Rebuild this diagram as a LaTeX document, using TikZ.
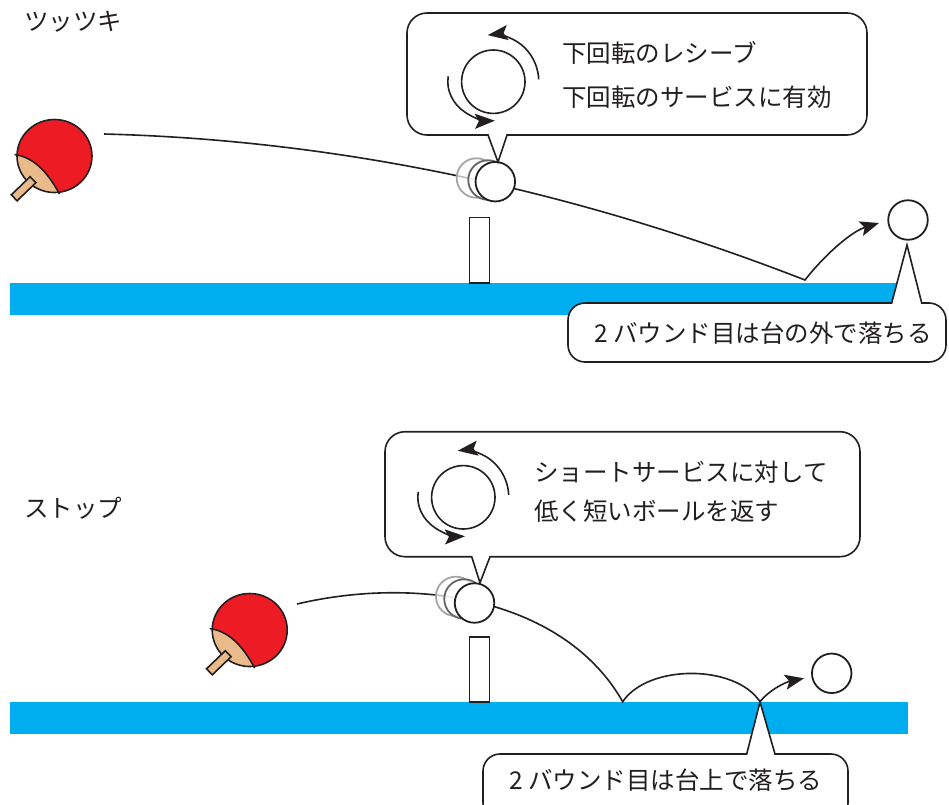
\documentclass[tikz,border=0pt]{standalone}
\usepackage{fontspec}
\newfontfamily\jpfont{Noto Sans CJK JP}
\usetikzlibrary{arrows.meta}

\definecolor{ink}{HTML}{231F20}
\definecolor{tablecol}{HTML}{00ADEE}
\definecolor{rubber}{HTML}{ED1C24}
\definecolor{wood}{HTML}{E9BA8A}

\tikzset{
  line/.style={draw=ink, line width=1.6pt},
  caption/.style={font=\jpfont\fontsize{24.5}{29}\selectfont, text=ink, anchor=west, inner sep=0pt},
  ball/.style={circle, draw=ink, line width=1.8pt, fill=white, minimum size=39.5pt, inner sep=0pt},
  ghostfar/.style={ball, draw=ink!40, fill opacity=0.7},
  ghostnear/.style={ball, draw=ink!70, fill opacity=0.7},
  balloon/.style={line, fill=white, line join=miter},
  netpost/.style={line, fill=white},
  tip/.style={-{Stealth[length=19pt,width=15pt,inset=4pt]}},
  spintip/.style={-{Stealth[length=20pt,width=15pt,inset=4pt]}},
  % racket seen from the side: red rubber, wooden lower part and handle
  paddle/.pic={
    \fill[rubber] (0,0) ellipse[x radius=37.5pt, y radius=36.5pt];
    \begin{scope}
      \clip (0,0) ellipse[x radius=37.5pt, y radius=36.5pt];
      \fill[wood] (-40,-1.5) .. controls (-22,1) and (-8,14) .. (5,38)
        -- (5,42) -- (-45,42) -- (-45,-1.5) -- cycle;
    \end{scope}
    \draw[line] (-40,-1.5) .. controls (-22,1) and (-8,14) .. (5,38);
    \draw[line] (0,0) ellipse[x radius=37.5pt, y radius=36.5pt];
    \draw[line, fill=wood, line join=miter]
      (-37.4,44.8) -- (-43.2,38.8) -- (-24.4,20.7) -- (-18.6,26.7) -- cycle;
  },
  % ball with two curved arrows showing the spin
  spin/.pic={
    \draw[line] (0,0) circle[radius=31.7pt];
    \draw[line, spintip] (45.4,-2.4)
      arc[start angle=3, end angle=97, x radius=45.5pt, y radius=47pt];
    \draw[line, spintip] (-45.06,-5.43)
      arc[start angle=172, end angle=272, x radius=45.5pt, y radius=39pt];
  },
}

\begin{document}
\begin{tikzpicture}[x=1pt, y=-1pt]
\path[use as bounding box] (0,0) rectangle (949,804);
\clip (0,0) rectangle (949,804);

% ---------- upper scene: ツッツキ ----------
\node[caption] (title1) at (24,21.7) {ツッツキ};

\fill[tablecol] (10,283) rectangle (898,315);
\draw[netpost] (469.3,217.3) rectangle (489.3,283);

\coordinate (s1) at (104,134);
\coordinate (k1) at (805,280);
\coordinate (e1) at (879,223);
\draw[line, tip] (s1) .. controls (337,140) and (571,189) .. (k1)
  .. controls (822,258) and (850,232) .. (e1);

\node[ghostfar]  (g1a) at (476.4,178) {};
\node[ghostnear] (g1b) at (488,180) {};
\node[ball]      (b1)  at (495.3,181.7) {};
\node[ball]      (r1)  at (908,220) {};

\pic at (54.5,156) {paddle};

% speech balloon above the ball
\draw[balloon] (427,13) -- (847,13)
  arc[start angle=90, end angle=0, radius=20pt] -- (867,115)
  arc[start angle=0, end angle=-90, radius=20pt] -- (507,135)
  -- (498,162) -- (488,135) -- (427,135)
  arc[start angle=-90, end angle=-180, radius=20pt] -- (407,33)
  arc[start angle=180, end angle=90, radius=20pt] -- cycle;
\pic at (493.3,81.7) {spin};
\node[caption] (t1a) at (562,53) {下回転のレシーブ};
\node[caption] (t1b) at (562,97.5) {下回転のサービスに有効};

% note on the second bounce
\draw[balloon] (585,303) -- (891.7,303) -- (907,245) -- (921.7,303) -- (929,303)
  arc[start angle=90, end angle=0, radius=17pt] -- (946,345)
  arc[start angle=0, end angle=-90, radius=17pt] -- (585,362)
  arc[start angle=-90, end angle=-180, radius=17pt] -- (568,320)
  arc[start angle=180, end angle=90, radius=17pt] -- cycle;
\node[caption] (n1) at (594,333) {2 バウンド目は台の外で落ちる};

% ---------- lower scene: ストップ ----------
\node[caption] (title2) at (24,508) {ストップ};

\fill[tablecol] (10,702) rectangle (908,734);
\draw[netpost] (469.3,636.7) rectangle (489.3,702);

\coordinate (s2) at (297,604);
\coordinate (k2) at (622.7,701.7);
\coordinate (k3) at (760,701.7);
\coordinate (e2) at (804,678.3);
\draw[line, tip] (s2) .. controls (420,575) and (565,600) .. (k2)
  .. controls (648,664) and (735,664) .. (k3)
  .. controls (769,690) and (786,682) .. (e2);

\node[ghostfar]  (g2a) at (455.7,596.4) {};
\node[ghostnear] (g2b) at (464,599) {};
\node[ball]      (b2)  at (474.5,603) {};
\node[ball]      (r2)  at (831.7,673.3) {};

\pic at (249.7,630) {paddle};

\draw[balloon] (405,431.7) -- (840,431.7)
  arc[start angle=90, end angle=0, radius=20pt] -- (860,536.7)
  arc[start angle=0, end angle=-90, radius=20pt] -- (490,556.7)
  -- (480,582.7) -- (471.7,556.7) -- (405,556.7)
  arc[start angle=-90, end angle=-180, radius=20pt] -- (385,451.7)
  arc[start angle=180, end angle=90, radius=20pt] -- cycle;
\pic at (463.3,497.3) {spin};
\node[caption] (t2a) at (534,471.7) {ショートサービスに対して};
\node[caption] (t2b) at (534,511.7) {低く短いボールを返す};

\draw[balloon] (500,754) -- (746.7,754) -- (760,702) -- (775,754) -- (831,754)
  arc[start angle=90, end angle=0, radius=17pt] -- (848,803)
  arc[start angle=0, end angle=-90, radius=17pt] -- (500,820)
  arc[start angle=-90, end angle=-180, radius=17pt] -- (483,771)
  arc[start angle=180, end angle=90, radius=17pt] -- cycle;
\node[caption] (n2) at (509,780) {2 バウンド目は台上で落ちる};
\end{tikzpicture}
\end{document}
